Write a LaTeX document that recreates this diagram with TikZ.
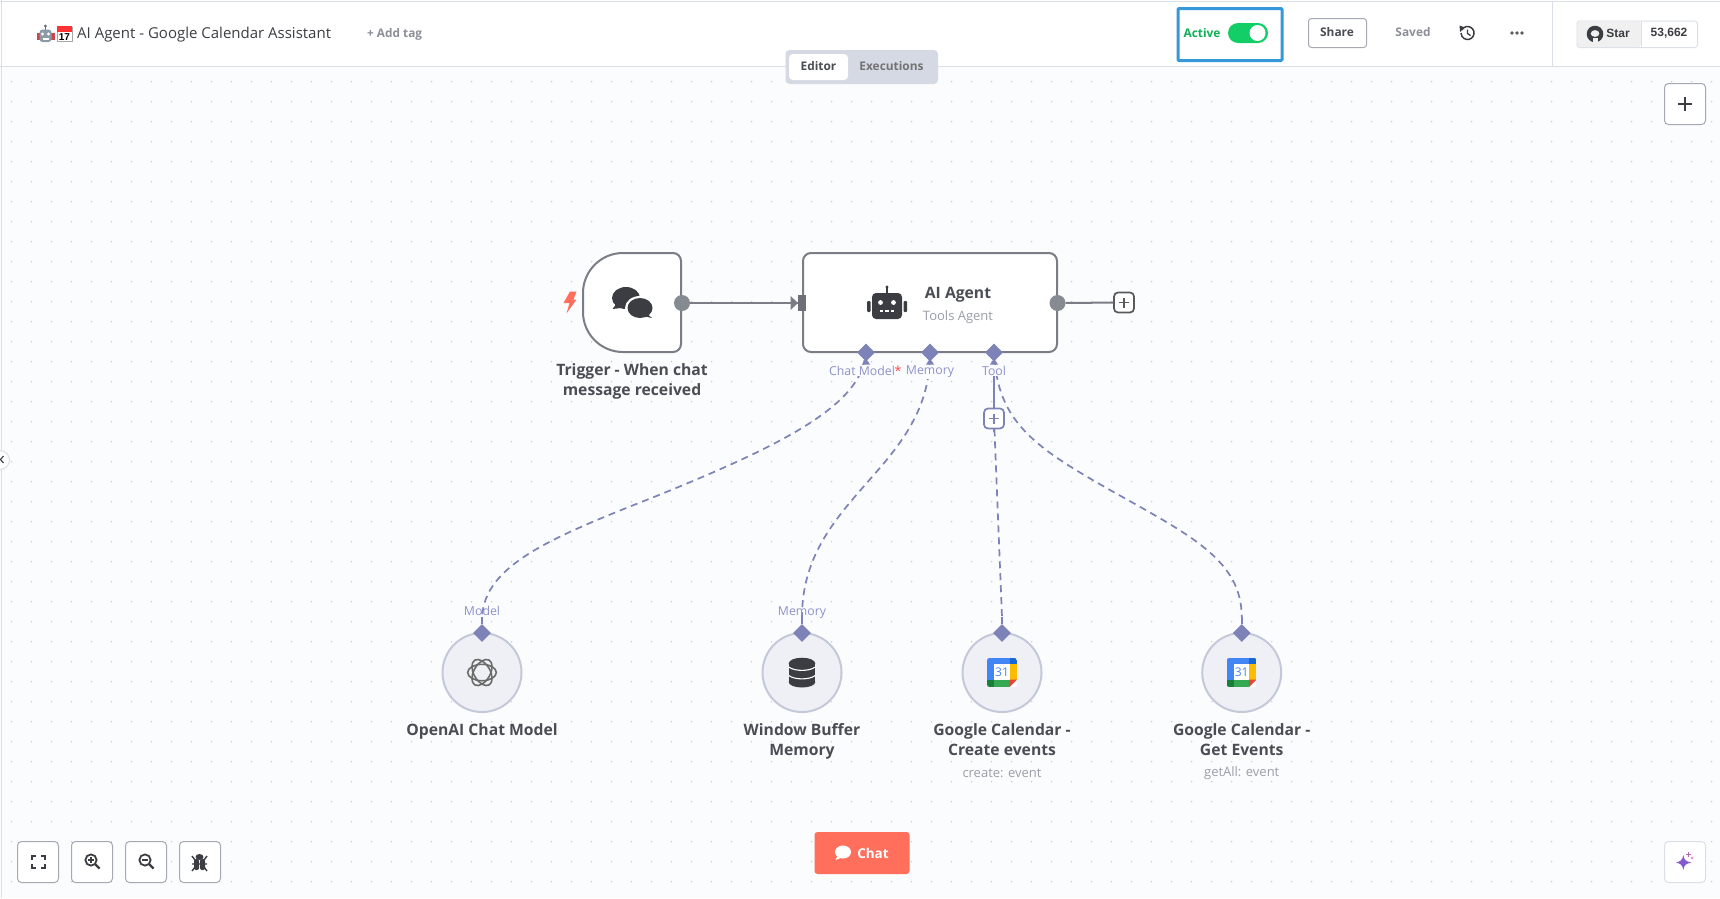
\documentclass[tikz,border=0pt]{standalone}
\usepackage{fontspec}
\setmainfont{Open Sans}
\def\semifont{\bfseries}
\newfontfamily\gitfont{Liberation Sans}
\usepackage{tikz}
\usetikzlibrary{calc,shapes.geometric}
\definecolor{canvasbg}{HTML}{FBFCFE}
\definecolor{linegray}{HTML}{DBDFE7}
\definecolor{dotgray}{HTML}{C0C4CC}
\definecolor{nodeline}{HTML}{7A7D85}
\definecolor{portgray}{HTML}{868A91}
\definecolor{inkdark}{HTML}{3B3D42}
\definecolor{textdark}{HTML}{4A4D54}
\definecolor{textgray}{HTML}{9A9EA8}
\definecolor{tabgray}{HTML}{D5D9E3}
\definecolor{portblue}{HTML}{7D83B7}
\definecolor{labelblue}{HTML}{8E92C9}
\definecolor{subline}{HTML}{C3C9D8}
\definecolor{subfill}{HTML}{EFF0F5}
\definecolor{okgreen}{HTML}{13CE66}
\definecolor{coral}{HTML}{FF6F5C}
\definecolor{boxblue}{HTML}{3498DB}
\definecolor{btnline}{HTML}{A6A9B3}
\definecolor{calblue}{HTML}{4285F4}
\definecolor{emojigray}{HTML}{8A9BA8}
\definecolor{emojired}{HTML}{D0454C}
\tikzset{
	nodebox/.style={draw=nodeline, line width=2pt, fill=white},
	subnode/.style={circle, draw=subline, line width=2pt, fill=subfill, minimum size=79pt, inner sep=0pt},
	portdiamond/.style={diamond, fill=portblue, minimum size=18pt, inner sep=0pt},
	portdot/.style={circle, fill=portgray, minimum size=16pt, inner sep=0pt},
	nodetitle/.style={font=\semifont\fontsize{15.7}{20}\selectfont, text=textdark, align=center},
	nodesub/.style={font=\fontsize{13}{16}\selectfont, text=textgray},
	portlabel/.style={font=\fontsize{12.3}{15}\selectfont, text=labelblue, fill=canvasbg, inner xsep=1pt, inner ysep=1pt},
	dashlink/.style={draw=portblue, line width=1.7pt, dash pattern=on 7pt off 5pt},
	plainbtn/.style={draw=btnline, line width=1pt, fill=white, rounded corners=4pt},
	plusbox/.style={draw, line width=1.7pt, fill=white, rounded corners=4pt, minimum width=20pt, minimum height=20pt, inner sep=0pt},
}
% google calendar tile, centered on the given point
\def\gcaltile(#1,#2){
	\begin{scope}
		\clip[rounded corners=2.5pt] (#1-15, #2-14.5) rectangle (#1+15, #2+14.5);
		\fill[calblue] (#1-15, #2-14.5) rectangle (#1+8, #2+7);
		\fill[white] (#1-8, #2-8.5) rectangle (#1+7.5, #2+7);
		\fill[fill={rgb,255:red,25;green,103;blue,210}] (#1+7.5, #2-14.5) rectangle (#1+15, #2-8.5);
		\fill[fill={rgb,255:red,251;green,188;blue,4}] (#1+7.5, #2-8.5) rectangle (#1+15, #2+7);
		\fill[fill={rgb,255:red,52;green,168;blue,83}] (#1-8, #2+7) rectangle (#1+7.5, #2+14.5);
		\fill[fill={rgb,255:red,24;green,128;blue,56}] (#1-15, #2+7) rectangle (#1-8, #2+14.5);
		\fill[white] (#1+7.5, #2+14.5) -- (#1+15, #2+7) -- (#1+15, #2+14.5) -- cycle;
		\fill[fill={rgb,255:red,234;green,67;blue,53}] (#1+7.5, #2+14.5) -- (#1+15, #2+7) -- (#1+7.5, #2+7) -- cycle;
	\end{scope}
}
\begin{document}
\begin{tikzpicture}[x=1pt, y=-1pt]
	%%%%% CANVAS %%%%%
	\useasboundingbox (0, 0) rectangle (1720, 898);
	\fill[canvasbg] (0, 0) rectangle (1720, 898);
	\foreach \i in {0,...,85}
		\foreach \j in {4,...,44}
			\fill[dotgray] (11.7+20*\i, 1.7+20*\j) circle (0.75pt);
	\fill[white] (0, 0) rectangle (1720, 66);
	\draw[linegray, line width=1pt] (0, 1) -- (1720, 1);
	\draw[linegray, line width=1pt] (0, 66) -- (1720, 66);
	\draw[linegray, line width=1pt] (1.5, 0) -- (1.5, 898);
	\draw[linegray, line width=1pt] (1552.5, 1) -- (1552.5, 66);

	%%%%% HEADER %%%%%
	% robot + calendar emoji
	\fill[emojigray!70!black] (45.4, 26) circle (1.6pt);
	\fill[emojigray!70!black] (44.7, 26) rectangle (46.1, 30);
	\fill[emojired] (37, 33) rectangle (41, 40);
	\fill[emojired] (50, 33) rectangle (54.5, 40);
	\fill[emojigray, rounded corners=3pt] (39.5, 29.5) rectangle (51.5, 42);
	\fill[white] (42.5, 34) circle (1.7pt);
	\fill[white] (48.5, 34) circle (1.7pt);
	\fill[white] (42.5, 38) rectangle (48.5, 39.6);
	\fill[white] (57, 27) rectangle (72, 41.5);
	\draw[black!35, line width=0.5pt] (57, 27) rectangle (72, 41.5);
	\fill[red!80!white] (57, 26) rectangle (72, 32);
	\node[font=\gitfont\bfseries\fontsize{10}{10}\selectfont, text=black, inner sep=0pt] (emojiday) at (64.5, 37) {17};
	\node[anchor=west, inner sep=0pt, font=\fontsize{15}{18}\selectfont, text=textdark!80!black] (wftitle) at (77, 35) {AI Agent - Google Calendar Assistant};
	\node[anchor=west, inner sep=0pt, font=\semifont\fontsize{11.8}{15}\selectfont, text=textgray!90!black] (addtag) at (367, 34) {+ Add tag};

	\fill[tabgray, rounded corners=4pt] (785.5, 50) rectangle (938, 84);
	\fill[white, rounded corners=4pt] (789, 54) rectangle (848, 80);
	\node[font=\semifont\fontsize{11.9}{15}\selectfont, text=textdark] (tabeditor) at (818.5, 66.5) {Editor};
	\node[font=\semifont\fontsize{11.9}{15}\selectfont, text=black!55] (tabexec) at (891.5, 66.5) {Executions};

	\draw[boxblue, line width=3pt, rounded corners=1pt] (1178, 8.5) rectangle (1282, 60.5);
	\node[font=\semifont\fontsize{11.9}{15}\selectfont, text=okgreen!85!black] (activetxt) at (1202, 33.5) {Active};
	\fill[okgreen, rounded corners=10pt] (1228, 23) rectangle (1268, 43);
	\fill[white] (1257.5, 33) circle (8pt);

	\draw[btnline, line width=1pt, rounded corners=3pt] (1308.5, 18.5) rectangle (1366.5, 47.5);
	\node[font=\semifont\fontsize{11.9}{15}\selectfont, text=textdark] (sharetxt) at (1337, 32.5) {Share};
	\node[font=\semifont\fontsize{11.9}{15}\selectfont, text=textgray!90!black] (savedtxt) at (1413, 32.5) {Saved};
	% history icon
	\draw[inkdark, line width=1.5pt] (1461.9, 29.75) arc (150:-180:6.5pt);
	\fill[inkdark] (1459.5, 25.5) -- (1465, 27.5) -- (1460, 32) -- cycle;
	\draw[inkdark, line width=1.3pt] (1467.5, 29.5) -- (1467.5, 33.5) -- (1470.5, 35.5);
	\foreach \i in {-5,0,5}
		\fill[inkdark!85] (1517+\i, 33) circle (1.9pt);

	\draw[linegray, line width=1pt, fill=white, rounded corners=3pt] (1577, 21) rectangle (1697.5, 47.5);
	\fill[gray!12, rounded corners=3pt] (1577.5, 21.5) rectangle (1641, 47);
	\draw[linegray, line width=1pt] (1641, 21) -- (1641, 47.5);
	% octocat, roughly
	\fill[inkdark] (1595, 34) circle (8.3pt);
	\fill[gray!12] (1595, 33.5) ellipse (4.3pt and 3.4pt);
	\fill[gray!12] (1592.5, 38) rectangle (1597.5, 42.8);
	\fill[inkdark] (1589.5, 27.5) -- (1589.5, 32) -- (1592.5, 30) -- cycle;
	\fill[inkdark] (1600.5, 27.5) -- (1600.5, 32) -- (1597.5, 30) -- cycle;
	\node[font=\gitfont\bfseries\fontsize{12}{15}\selectfont, text=inkdark] (startxt) at (1618, 33.5) {Star};
	\node[font=\gitfont\bfseries\fontsize{12}{15}\selectfont, text=inkdark] (starcount) at (1669, 33.5) {53,662};

	\draw[plainbtn] (1664.5, 83.5) rectangle (1705.5, 124.5);
	\draw[inkdark, line width=2.6pt] (1678, 104) -- (1692, 104);
	\draw[inkdark, line width=2.6pt] (1685, 97) -- (1685, 111);

	% side handle
	\fill[white] (0, 460) circle (9.5pt);
	\draw[linegray, line width=1pt] (0, 450.5) arc (90:-90:9.5pt);
	\draw[inkdark, line width=1.1pt] (3.5, 456) -- (0.5, 459.5) -- (3.5, 463);

	%%%%% MAIN NODES %%%%%
	\draw[nodebox] (583, 291) -- (583, 293) arc (180:90:40pt) -- (673, 253) arc (90:0:8pt) -- (681, 344) arc (0:-90:8pt) -- (623, 352) arc (-90:-180:40pt) -- cycle;
	\coordinate (trigger) at (632, 303);
	\fill[coral] (570, 291.5) -- (576.5, 291.5) -- (573.5, 299.5) -- (576.5, 299.5) -- (566.5, 313.5) -- (569.5, 303) -- (563.5, 303) -- cycle;
	% chat bubbles
	\fill[inkdark] (612.5, 309) -- (617, 303) -- (621, 308) -- cycle;
	\fill[inkdark] (626, 298) ellipse (14pt and 11pt);
	\fill[white] (640, 308) ellipse (15pt and 12pt);
	\fill[inkdark] (640, 308) ellipse (12.5pt and 10pt);
	\fill[inkdark] (652, 318) -- (645, 312) -- (643, 316) -- cycle;
	\node[nodetitle] (triggerlabel) at (632, 381) {Trigger - When chat\\message received};
	\node[portdot] (triggerout) at (682, 303) {};

	\draw[nodebox, rounded corners=8pt] (803, 253) rectangle (1057, 352);
	\fill[nodeline!90!black] (798, 295) rectangle (806, 311);
	\coordinate (agentin) at (798, 303);
	% robot icon
	\fill[inkdark] (887, 287) circle (1.6pt);
	\fill[inkdark] (886.2, 287) rectangle (887.8, 294);
	\fill[inkdark, rounded corners=4pt] (872, 293) rectangle (902, 319);
	\fill[inkdark, rounded corners=1pt] (867, 301) rectangle (870.5, 312);
	\fill[inkdark, rounded corners=1pt] (903.5, 301) rectangle (907, 312);
	\fill[white] (880.5, 302.5) circle (2.4pt);
	\fill[white] (893.5, 302.5) circle (2.4pt);
	\foreach \i in {-5.5,0,5.5}
		\fill[white] (887+\i-1.8, 309.5) rectangle (887+\i+1.8, 311.5);
	\node[font=\semifont\fontsize{15.7}{20}\selectfont, text=textdark] (agenttitle) at (958, 295) {AI Agent};
	\node[nodesub] (agentsub) at (958, 317) {Tools Agent};
	\node[portdot] (agentout) at (1057.5, 303) {};
	\node[plusbox, draw=black!65] (agentplus) at (1124, 302.5) {};
	\draw[inkdark!85, line width=1.3pt] (1119, 302.5) -- (1129, 302.5) (1124, 297.5) -- (1124, 307.5);

	\draw[nodeline, line width=2pt] (triggerout) -- (agentin);
	\fill[nodeline] (agentin) -- (790.5, 296) -- (790.5, 310) -- cycle;
	\draw[nodeline, line width=2pt] (agentout) -- (agentplus);

	%%%%% SUB NODES %%%%%
	\node[subnode] (openai) at (482, 672.5) {};
	\node[subnode] (memnode) at (802, 672.5) {};
	\node[subnode] (createcal) at (1002, 672.5) {};
	\node[subnode] (getcal) at (1241.7, 672.5) {};

	% openai knot
	\foreach \a in {0,60,120}
		\draw[black!58, line width=1.6pt, rotate around={\a:(482,672.5)}] (482, 672.5) ellipse (14.3pt and 8.2pt);
	% database
	\fill[inkdark] (788.7, 663.5) rectangle (815.3, 682);
	\fill[inkdark] (802, 663.5) ellipse (13.3pt and 5.8pt);
	\fill[inkdark] (802, 682) ellipse (13.3pt and 5.5pt);
	\draw[white, line width=1.1pt] (788.7, 667) .. controls (795, 671.5) and (809, 671.5) .. (815.3, 667);
	\draw[white, line width=1.1pt] (788.7, 675.5) .. controls (795, 680) and (809, 680) .. (815.3, 675.5);
	\gcaltile(1002,672.5)
	\node[font=\fontsize{12}{12}\selectfont, text=calblue, inner sep=0pt] (dayone) at (1002, 671.8) {31};
	\gcaltile(1241.7,672.5)
	\node[font=\fontsize{12}{12}\selectfont, text=calblue, inner sep=0pt] (daytwo) at (1241.7, 671.8) {31};

	\node[nodetitle] (openailabel) at (482, 731) {OpenAI Chat Model};
	\node[nodetitle] (memlabel) at (802, 741) {Window Buffer\\Memory};
	\node[nodetitle] (createlabel) at (1002, 739.5) {Google Calendar -\\Create events};
	\node[nodesub] (createsub) at (1002, 773.5) {create: event};
	\node[nodetitle] (getlabel) at (1241.7, 739.5) {Google Calendar -\\Get Events};
	\node[nodesub] (getsub) at (1241.7, 773.5) {getAll: event};

	%%%%% PORTS AND LINKS %%%%%
	\coordinate (modeltop) at (482, 617);
	\coordinate (memtop) at (802, 617);
	\coordinate (createtop) at (1002, 617);
	\coordinate (gettop) at (1241.7, 617);
	\node[portdiamond] (modelport) at (482, 633) {};
	\node[portdiamond] (memport) at (802, 633) {};
	\node[portdiamond] (createport) at (1002, 633) {};
	\node[portdiamond] (getport) at (1241.7, 633) {};
	\node[portdiamond] (chatport) at (866, 352.5) {};
	\node[portdiamond] (memoryport) at (930, 352.5) {};
	\node[portdiamond] (toolport) at (994, 352.5) {};
	\node[plusbox, draw=portblue] (toolplus) at (994, 418.5) {};
	\draw[portblue, line width=1.5pt] (989, 418.5) -- (999, 418.5) (994, 413.5) -- (994, 423.5);

	\draw[dashlink] (chatport) .. controls (855, 410) and (770, 450) .. (654, 497) .. controls (550, 538) and (485, 565) .. (modeltop);
	\draw[dashlink] (memoryport) .. controls (925, 470) and (802, 500) .. (memtop);
	\draw[dashlink] (toolplus) -- (createtop);
	\draw[dashlink] (toolport) .. controls (1000, 425) and (1040, 450) .. (1110, 490) .. controls (1190, 535) and (1241.7, 560) .. (gettop);

	\foreach \n in {chatport,memoryport,toolport}
		\fill[portblue] ($(\n)+(-4, 12)$) -- ($(\n)+(4, 12)$) -- ($(\n)+(0, 6)$) -- cycle;
	\draw[portblue, line width=2pt] (modeltop) -- (modelport);
	\draw[portblue, line width=2pt] (memtop) -- (memport);
	\draw[portblue, line width=2pt] (createtop) -- (createport);
	\draw[portblue, line width=2pt] (gettop) -- (getport);
	\draw[portblue, line width=1.5pt] (toolplus.south) -- ++(0, 3);

	\node[portlabel] (chatlabel) at (862, 370.5) {Chat Model};
	\node[font=\fontsize{12.5}{15}\selectfont, text=red!75!white, inner sep=0pt] (chatstar) at (898, 370.5) {*};
	\node[portlabel] (memorylabel) at (930, 372) {Memory};
	\node[portlabel] (toollabel) at (994, 370.5) {Tool};
	\node[portlabel, fill=none] (modellabel) at (482, 610.5) {Model};
	\node[portlabel, fill=none] (memlinklabel) at (802, 612.5) {Memory};
	\draw[portblue, line width=1.5pt] (toollabel.south) -- (toolplus.north);

	%%%%% BOTTOM BAR %%%%%
	\draw[plainbtn] (17.5, 841.5) rectangle (58.5, 882.5);
	\draw[plainbtn] (71.5, 841.5) rectangle (112.5, 882.5);
	\draw[plainbtn] (125.5, 841.5) rectangle (166.5, 882.5);
	\draw[plainbtn] (179.5, 841.5) rectangle (220.5, 882.5);
	% fit view corners
	\draw[inkdark, line width=1.8pt] (32, 860) -- (32, 856) -- (36, 856);
	\draw[inkdark, line width=1.8pt] (41, 856) -- (45, 856) -- (45, 860);
	\draw[inkdark, line width=1.8pt] (45, 864) -- (45, 868) -- (41, 868);
	\draw[inkdark, line width=1.8pt] (36, 868) -- (32, 868) -- (32, 864);
	% zoom in, zoom out
	\draw[inkdark, line width=1.8pt] (91, 860) circle (5.6pt);
	\draw[inkdark, line width=2.4pt] (95, 864) -- (99.5, 868.5);
	\draw[inkdark, line width=1.3pt] (88, 860) -- (94, 860) (91, 857) -- (91, 863);
	\draw[inkdark, line width=1.8pt] (145, 860) circle (5.6pt);
	\draw[inkdark, line width=2.4pt] (149, 864) -- (153.5, 868.5);
	\draw[inkdark, line width=1.3pt] (142, 860) -- (148, 860);
	% bug
	\fill[inkdark] (199.5, 857) ellipse (4pt and 3pt);
	\fill[inkdark, rounded corners=2pt] (194, 859) rectangle (199, 870);
	\fill[inkdark, rounded corners=2pt] (200, 859) rectangle (205, 870);
	\draw[inkdark, line width=1.4pt] (192, 856) -- (195, 860) (207, 856) -- (204, 860) (192, 864) -- (207, 864) (192, 871) -- (195, 867) (207, 871) -- (204, 867);

	\fill[coral, rounded corners=3pt] (814.5, 832) rectangle (909.5, 874);
	\fill[white] (843, 852) ellipse (8pt and 6.5pt);
	\fill[white] (835.5, 860) -- (838, 855) -- (842, 857.5) -- cycle;
	\node[font=\semifont\fontsize{13.5}{17}\selectfont, text=white] (chatbtn) at (873, 853) {Chat};

	\draw[linegray, line width=1pt, fill=white, rounded corners=4pt] (1664.5, 841.5) rectangle (1705.5, 882.5);
	\fill[violet!55!blue!65] (1683.3, 855) .. controls (1684, 860) and (1686, 861.5) .. (1691.3, 862.5) .. controls (1686, 863.5) and (1684, 865) .. (1683.3, 870) .. controls (1682.5, 865) and (1680.5, 863.5) .. (1676, 862.5) .. controls (1680.5, 861.5) and (1682.5, 860) .. cycle;
	\draw[violet!60, line width=0.9pt] (1685.5, 854.5) -- (1690.5, 854.5) (1688, 852) -- (1688, 857);
	\fill[magenta!45] (1692, 858) circle (1.5pt);
\end{tikzpicture}
\end{document}
